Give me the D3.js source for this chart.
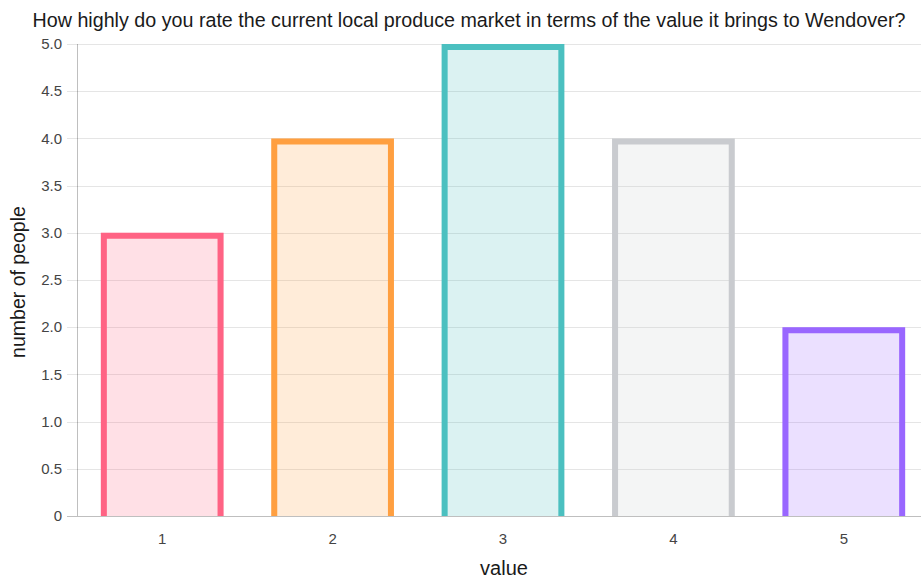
<!DOCTYPE html>
<html>
<head>
<meta charset="utf-8">
<script src="https://cdn.jsdelivr.net/npm/d3@7"></script>
<style>
  html, body { margin: 0; padding: 0; background: #fff; overflow: hidden; }
  svg { display: block; font-family: "Liberation Sans", Arial, Helvetica, sans-serif; }
</style>
</head>
<body>
<svg id="chart" width="921" height="579"></svg>
<script>
// Survey answers: rating (1-5) and how many people gave it
const categories = ["1", "2", "3", "4", "5"];
const counts = [3, 4, 5, 4, 2];
const yTicks = [0, 0.5, 1, 1.5, 2, 2.5, 3, 3.5, 4, 4.5, 5];
const strokeColors = ["rgb(255,99,132)", "rgb(255,159,64)", "rgb(75,192,192)", "rgb(201,203,207)", "rgb(153,102,255)"];
const fillColors = ["rgba(255,99,132,0.2)", "rgba(255,159,64,0.2)", "rgba(75,192,192,0.2)", "rgba(201,203,207,0.2)", "rgba(153,102,255,0.2)"];
const titleText = "How highly do you rate the current local produce market in terms of the value it brings to Wendover?";

const svg = d3.select("#chart");
const plot = { left: 77, right: 929, top: 44, bottom: 516 };

const x = d3.scaleBand().domain(categories).range([plot.left, plot.right]).padding(0);
const y = d3.scaleLinear().domain([0, 5]).range([plot.bottom, plot.top]);

// Horizontal grid lines and y tick marks
svg.append("g").selectAll("line").data(yTicks).join("line")
  .attr("x1", plot.left - 10).attr("x2", plot.right)
  .attr("y1", d => Math.round(y(d)) + 0.5).attr("y2", d => Math.round(y(d)) + 0.5)
  .attr("stroke", d => d === 0 ? "rgba(0,0,0,0.25)" : "rgba(0,0,0,0.1)")
  .attr("stroke-width", 1);

// y axis line
svg.append("line")
  .attr("x1", plot.left + 0.5).attr("x2", plot.left + 0.5)
  .attr("y1", plot.top).attr("y2", plot.bottom)
  .attr("stroke", "rgba(0,0,0,0.25)");

// y tick labels
svg.append("g").selectAll("text").data(yTicks).join("text")
  .attr("x", plot.left - 15).attr("y", d => y(d))
  .attr("dy", "0.35em").attr("text-anchor", "end")
  .attr("font-size", 15).attr("fill", "#444")
  .text(d => d === 0 ? "0" : d3.format(".1f")(d));

// x tick labels
svg.append("g").selectAll("text").data(categories).join("text")
  .attr("x", d => x(d) + x.bandwidth() / 2).attr("y", 539)
  .attr("dy", "0.35em").attr("text-anchor", "middle")
  .attr("font-size", 15).attr("fill", "#444")
  .text(d => d);

// Bars: translucent fill, solid border on left, top and right
const barFrac = 0.72, bw = 6;
const bars = svg.append("g").selectAll("g").data(counts).join("g");
bars.append("rect")
  .attr("x", (d, i) => x(categories[i]) + x.bandwidth() * (1 - barFrac) / 2)
  .attr("y", d => y(d))
  .attr("width", x.bandwidth() * barFrac)
  .attr("height", d => plot.bottom - y(d))
  .attr("fill", (d, i) => fillColors[i]);
bars.append("path")
  .attr("d", (d, i) => {
    const x0 = x(categories[i]) + x.bandwidth() * (1 - barFrac) / 2;
    const x1 = x0 + x.bandwidth() * barFrac;
    const t = y(d);
    return `M${x0 + bw / 2},${plot.bottom} L${x0 + bw / 2},${t + bw / 2} L${x1 - bw / 2},${t + bw / 2} L${x1 - bw / 2},${plot.bottom}`;
  })
  .attr("fill", "none")
  .attr("stroke", (d, i) => strokeColors[i])
  .attr("stroke-width", bw)
  .attr("stroke-linejoin", "miter");

// Title and axis titles
svg.append("text")
  .attr("x", 469).attr("y", 27)
  .attr("text-anchor", "middle").attr("font-size", 19.7).attr("fill", "#1a1a1a")
  .text(titleText);

svg.append("text")
  .attr("transform", `translate(25,${282}) rotate(-90)`)
  .attr("text-anchor", "middle").attr("font-size", 19.5).attr("fill", "#1a1a1a")
  .text("number of people");

svg.append("text")
  .attr("x", 504).attr("y", 575)
  .attr("text-anchor", "middle").attr("font-size", 20).attr("fill", "#1a1a1a")
  .text("value");
</script>
</body>
</html>
